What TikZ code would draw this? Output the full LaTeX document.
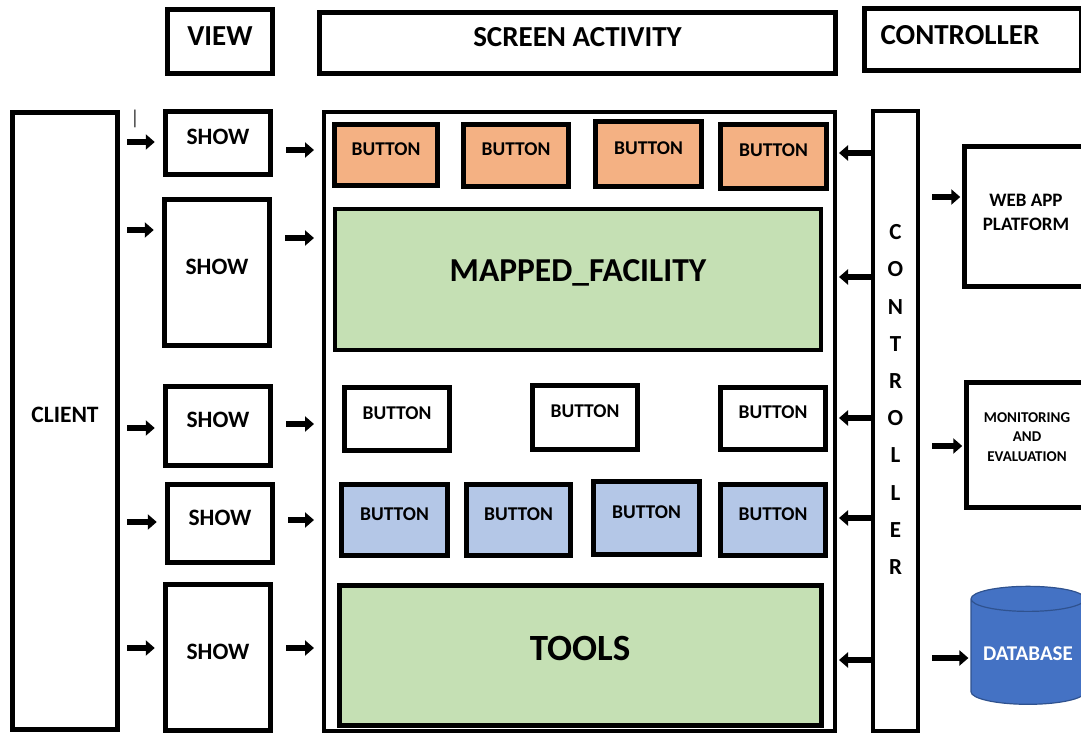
\documentclass[tikz,border=0pt]{standalone}
\usepackage{fontspec}
\setmainfont{Carlito}
\usetikzlibrary{arrows.meta}
\usetikzlibrary{shapes.geometric}
\definecolor{btnorange}{HTML}{F4B183}
\definecolor{areagreen}{HTML}{C5E0B4}
\definecolor{btnblue}{HTML}{B4C7E7}
\definecolor{dbblue}{HTML}{4472C4}
\definecolor{dbline}{HTML}{2F528F}

\begin{document}
\begin{tikzpicture}[x=1pt,y=-1pt]
\def\lw{4.5pt}
\def\l{9pt}
\def\w{15pt}
\tikzset{
  box/.style={draw,black,line width=\lw,rectangle,inner sep=0pt,text depth=12pt},
  titlef/.style={font=\fontsize{29}{32}\selectfont\bfseries},
  showf/.style={font=\fontsize{23.5}{26}\selectfont\bfseries},
  btnf/.style={font=\fontsize{19.5}{22}\selectfont\bfseries},
  bigf/.style={font=\fontsize{33.5}{36}\selectfont\bfseries},
  smallf/.style={font=\fontsize{19}{24}\selectfont\bfseries},
  btn/.style={box,btnf,minimum width=105pt,minimum height=63pt},
  arr/.style={-{Triangle[length=\l, width=\w]},line width=6pt},
  inarr/.style={arr,shorten <=7.5pt,shorten >=8.5pt},
  midarr/.style={arr,shorten <=13.5pt,shorten >=8pt},
  backarr/.style={arr,shorten >=2pt},
  outarr/.style={arr,shorten <=12pt,shorten >=2pt},
}
\useasboundingbox (0,0) rectangle (1081,735);

% titles
\node [box, titlef, minimum width=105pt, minimum height=64pt, text depth=10pt, name=view]   at (220,41.5) {VIEW};
\node [box, titlef, minimum width=516pt, minimum height=61pt, name=screentitle] at (577.5,43) {SCREEN ACTIVITY};
\node [box, titlef, minimum width=217pt, minimum height=62pt, text depth=9pt, align=left, text width=185pt, name=ctrltitle] at (973,39.5) {CONTROLLER};

% client and views
\node [box, showf, minimum width=105pt, minimum height=617pt, name=client] at (65,421) {CLIENT};
\node [text=black!80, font=\fontsize{20}{24}\selectfont, inner sep=0pt, name=cursor] at (135,119) {|};
\node [box, showf, minimum width=105pt, minimum height=63pt,  name=show1] at (218,143) {SHOW};
\node [box, showf, minimum width=105pt, minimum height=146pt, name=show2] at (217,272.5) {SHOW};
\node [box, showf, minimum width=105pt, minimum height=79pt,  name=show3] at (218,426) {SHOW};
\node [box, showf, minimum width=105pt, minimum height=78pt,  name=show4] at (220,523.5) {SHOW};
\node [box, showf, minimum width=105pt, minimum height=146pt, name=show5] at (218,657.5) {SHOW};

% screen activity
\node [box, line width=4pt, minimum width=511pt, minimum height=619pt, name=screen] at (579.5,421.5) {};
\node [btn, fill=btnorange, minimum width=103pt, minimum height=61pt, name=ob1] at (386,155) {BUTTON};
\node [btn, fill=btnorange, minimum height=62pt, name=ob2] at (516,155.5) {BUTTON};
\node [btn, fill=btnorange, minimum width=106pt, minimum height=65pt, name=ob3] at (648.5,154) {BUTTON};
\node [btn, fill=btnorange, minimum width=106pt, minimum height=64pt, name=ob4] at (773.5,156.5) {BUTTON};
\node [box, bigf, fill=areagreen, line width=4pt, minimum width=486pt, minimum height=141pt, text depth=18pt, name=mapped] at (578,279.5) {MAPPED\_FACILITY};
\node [btn, name=wb1] at (397,419) {BUTTON};
\node [btn, minimum height=64pt, name=wb2] at (585,417.5) {BUTTON};
\node [btn, minimum height=62pt, name=wb3] at (773,418.5) {BUTTON};
\node [btn, fill=btnblue, minimum width=106pt, minimum height=71pt, name=bb1] at (394.5,520) {BUTTON};
\node [btn, fill=btnblue, minimum width=104pt, minimum height=71pt, name=bb2] at (518.5,520) {BUTTON};
\node [btn, fill=btnblue, minimum width=106pt, minimum height=73pt, name=bb3] at (646.5,518) {BUTTON};
\node [btn, fill=btnblue, minimum height=71pt, name=bb4] at (773,520) {BUTTON};
\node [box, font=\fontsize{37}{40}\selectfont\bfseries, fill=areagreen, line width=5pt, minimum width=482pt, minimum height=140pt, text depth=14pt, name=tools] at (580,655) {TOOLS};

% controller side
\node [box, line width=4pt, font=\fontsize{23}{37.2}\selectfont\bfseries, align=center, minimum width=45pt, minimum height=620pt, text depth=43pt, name=ctrl] at (895.5,421) {C\\O\\N\\T\\R\\O\\L\\L\\E\\R};
\node [box, smallf, align=center, minimum width=123pt, minimum height=140pt, text depth=8pt, name=webapp] at (1026,216.5) {WEB APP\\PLATFORM};
\node [box, font=\fontsize{15}{19.5}\selectfont\bfseries, align=center, minimum width=121pt, minimum height=125pt, text depth=16pt, name=monitor] at (1027,445) {MONITORING\\AND\\EVALUATION};
\node [cylinder, shape border rotate=90, aspect=0.26, draw=dbline, line width=1.2pt, fill=dbblue, text=white, font=\fontsize{21}{24}\selectfont\bfseries, minimum width=114pt, minimum height=118pt, name=db] at (1028,654) {DATABASE};

% client to views
\draw [inarr](client.east |- 0,142) to (show1.west |- 0,142);
\draw [inarr](client.east |- 0,230) to (show2.west |- 0,230);
\draw [inarr](client.east |- 0,428) to (show3.west |- 0,428);
\draw [inarr](client.east |- 0,522) to (show4.west |- 0,522);
\draw [inarr](client.east |- 0,648) to (show5.west |- 0,648);
% views to screen
\draw [midarr](show1.east |- 0,150) to (screen.west |- 0,150);
\draw [midarr](show2.east |- 0,238) to (screen.west |- 0,238);
\draw [midarr](show3.east |- 0,424) to (screen.west |- 0,424);
\draw [midarr](show4.east |- 0,520) to (screen.west |- 0,520);
\draw [midarr](show5.east |- 0,648) to (screen.west |- 0,648);
% controller to screen
\draw [backarr](ctrl.west |- 0,153) to (screen.east |- 0,153);
\draw [backarr](ctrl.west |- 0,277) to (screen.east |- 0,277);
\draw [backarr](ctrl.west |- 0,418) to (screen.east |- 0,418);
\draw [backarr](ctrl.west |- 0,518) to (screen.east |- 0,518);
\draw [backarr](ctrl.west |- 0,660) to (screen.east |- 0,660);
% controller to platform
\draw [outarr](ctrl.east |- 0,197) to (webapp.west |- 0,197);
\draw [outarr](ctrl.east |- 0,446) to (monitor.west |- 0,446);
\draw [outarr](ctrl.east |- 0,658) to (db.west |- 0,658);
\end{tikzpicture}
\end{document}
